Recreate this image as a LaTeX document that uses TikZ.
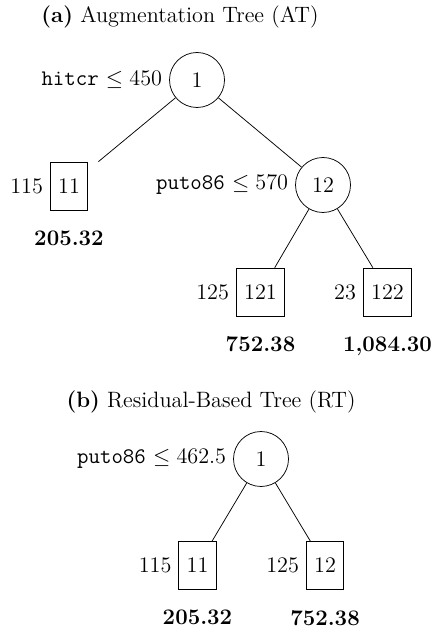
\documentclass[tikz,border=0pt]{standalone}
\begin{document}
\begin{tikzpicture}[x=0.54pt,y=-0.54pt,
  every node/.style={font=\large},
  split/.style={circle,draw,minimum size=29.7pt,inner sep=0pt},
  leaf/.style={rectangle,draw,minimum height=25.9pt,inner xsep=4.2pt},
  every label/.style={font=\large,inner sep=3.6pt},
  value/.style={font=\large\bfseries,label distance=7.2pt},
  title/.style={inner sep=0pt}]
\useasboundingbox (0,0) rectangle (435,630);

% (a) augmentation tree
\node[title] (ta) at (180,17) {\textbf{(a)} Augmentation Tree (AT)};
\node[split,label={left:{\texttt{hitcr} $\leq 450$}}] (a1) at (197,80) {1};
\node[leaf,label={left:115},label={[value]below:205.32}] (a11) at (69,186) {11};
\node[split,label={left:{\texttt{puto86} $\leq 570$}}] (a12) at (323,185) {12};
\node[leaf,label={left:125},label={[value]below:752.38}] (a121) at (260.5,292) {121};
\node[leaf,label={left:23},label={[value]below:{1,084.30}}] (a122) at (387.5,292) {122};

\draw (a1) -- (intersection of a1--a11 and a11.north west--a11.north east);
\draw (a1) -- (a12);
\draw (a12) -- (intersection of a12--a121 and a121.north west--a121.north east);
\draw (a12) -- (intersection of a12--a122 and a122.north west--a122.north east);

% (b) residual-based tree
\node[title] (tb) at (211,402) {\textbf{(b)} Residual-Based Tree (RT)};
\node[split,label={left:{\texttt{puto86} $\leq 462.5$}}] (b1) at (261,459) {1};
\node[leaf,label={left:115},label={[value]below:205.32}] (b11) at (197.5,565.5) {11};
\node[leaf,label={left:125},label={[value]below:752.38}] (b12) at (325,565.5) {12};

\draw (b1) -- (intersection of b1--b11 and b11.north west--b11.north east);
\draw (b1) -- (intersection of b1--b12 and b12.north west--b12.north east);
\end{tikzpicture}
\end{document}
